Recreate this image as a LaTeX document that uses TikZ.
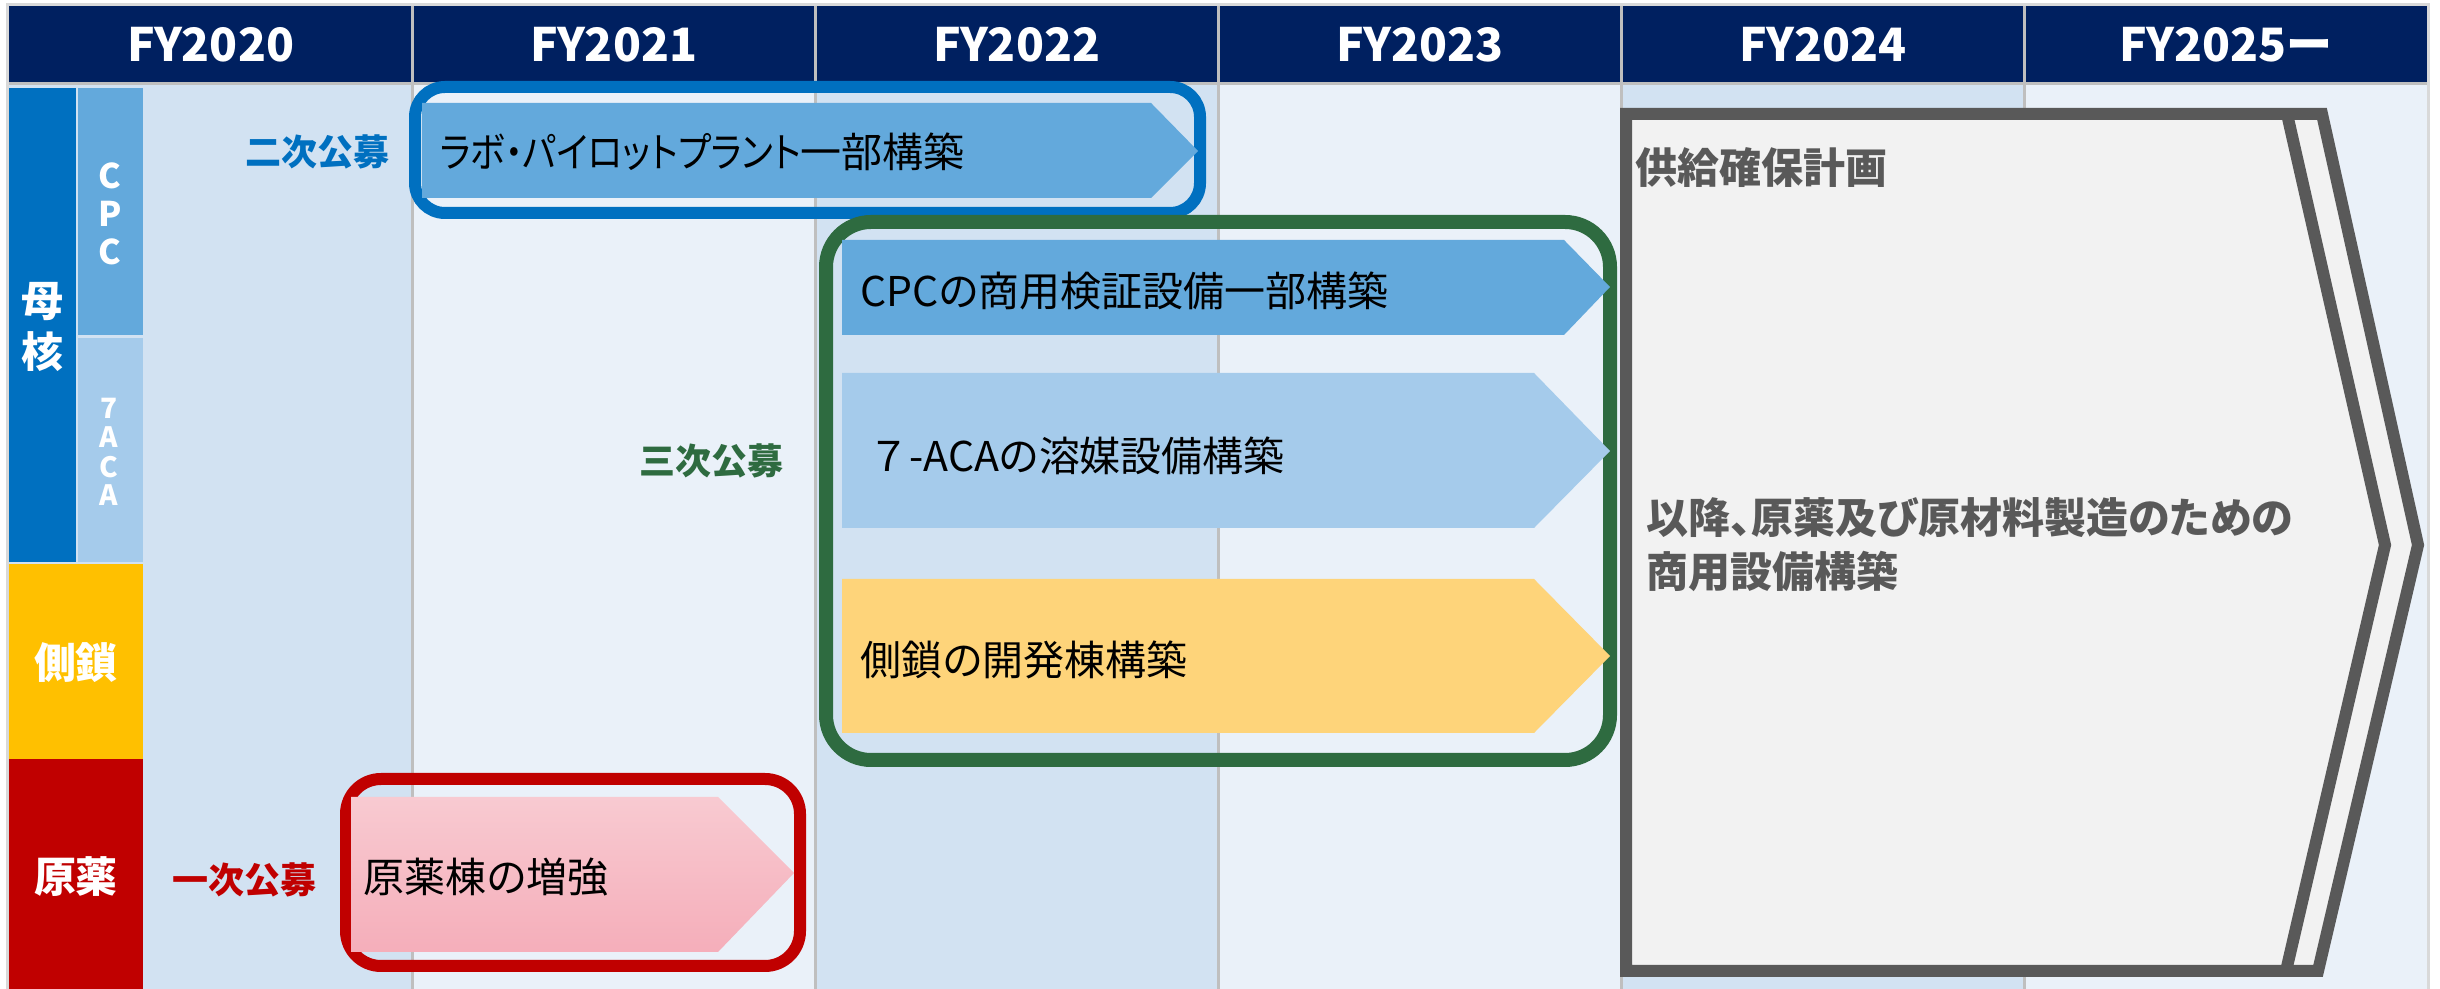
\documentclass[tikz,border=0pt]{standalone}
\usepackage{fontspec}
\setmainfont[RawFeature=+palt]{Noto Sans CJK JP}
\newfontfamily\jpfull{Noto Sans CJK JP}
\definecolor{navy}{HTML}{002060}
\definecolor{colD}{HTML}{D2E2F2}
\definecolor{colL}{HTML}{EAF1F9}
\definecolor{divg}{HTML}{BFBFBF}
\definecolor{edgeg}{HTML}{D9D9D9}
\definecolor{mblue}{HTML}{0070C0}
\definecolor{cpcb}{HTML}{63A9DC}
\definecolor{acab}{HTML}{A5CBEB}
\definecolor{ylw}{HTML}{FFC000}
\definecolor{ylwa}{HTML}{FED47A}
\definecolor{dred}{HTML}{C00000}
\definecolor{pinkt}{HTML}{F8CAD1}
\definecolor{pinkb}{HTML}{F5AEBA}
\definecolor{dgreen}{HTML}{2E6B40}
\definecolor{gstroke}{HTML}{595959}
\definecolor{gfill}{HTML}{F2F2F2}
\tikzset{
 hdr/.style={text=white, font=\bfseries\fontsize{13.8}{16}\selectfont, inner sep=0},
 cat/.style={text=white, font=\bfseries\fontsize{12.6}{14}\selectfont, inner sep=0},
 sub/.style={text=white, font=\bfseries\fontsize{10.2}{12}\selectfont, inner sep=0},
 subs/.style={text=white, font=\bfseries\fontsize{8.4}{10}\selectfont, inner sep=0},
 callout/.style={font=\bfseries\fontsize{10.8}{13}\selectfont, inner sep=0},
 atext/.style={text=black, font=\fontsize{12.3}{14}\selectfont, inner sep=0, anchor=west},
 gtext/.style={text=gstroke, font=\bfseries\fontsize{12.6}{15}\selectfont, inner sep=0, anchor=west},
 frame/.style={line width=3.6pt},
}
\begin{document}
\begin{tikzpicture}[x=0.3pt,y=-0.3pt]
\useasboundingbox (0,0) rectangle (2440,989);
\fill[white] (0,0) rectangle (2440,989);
\fill[edgeg] (6,3) rectangle (2430,989);
% columns
\foreach \i/\c in {0/colD,1/colL,2/colD,3/colL,4/colD,5/colL}
  \fill[\c] (9+\i*403,85) rectangle (412+\i*403,989);
\fill[navy] (9,6) rectangle (2427,83);
\foreach \i in {1,...,5}
  \draw[divg, line width=0.9pt] (9+\i*403,6) -- (9+\i*403,989);
\draw[divg, line width=0.9pt] (9,84) -- (2427,84);
% header texts
\foreach \i/\t in {0/FY2020,1/FY2021,2/FY2022,3/FY2023,4/FY2024,5/FY2025ー}
  \node[hdr] (h\i) at (210.5+\i*403,45) {\t};
% category column
\fill[mblue] (9,88) rectangle (76,562);
\fill[cpcb] (78,88) rectangle (143,335);
\fill[acab] (78,338) rectangle (143,562);
\fill[ylw] (9,564) rectangle (143,759);
\fill[dred] (9,759) rectangle (143,989);
\node[cat] (mo) at (42,302) {母};
\node[cat] (kaku) at (42,352) {核};
\node[sub] (c1) at (110,176) {C};
\node[sub] (p1) at (110,214) {P};
\node[sub] (c2) at (110,252) {C};
\node[subs] (s7) at (109,408) {7};
\node[subs] (sa1) at (109,437) {A};
\node[subs] (sc) at (109,467) {C};
\node[subs] (sa2) at (109,495) {A};
\node[cat] (sokusa) at (76,663) {側鎖};
\node[cat] (genyaku) at (76,877) {原薬};
% call labels
\node[callout, text=mblue] (niji) at (317,152) {二次公募};
\node[callout, text=dred] (ichiji) at (244,880) {一次公募};
\node[callout, text=dgreen] (sanji) at (711,461) {三次公募};
% frames
\draw[frame, mblue, rounded corners=9pt] (415,87) rectangle (1200,213);
\draw[frame, dgreen, line width=4.2pt, rounded corners=13.5pt] (826,222) rectangle (1610,760);
\draw[frame, dred, rounded corners=10.5pt] (346,779) rectangle (800,966);
% arrows
\fill[cpcb] (422,103) -- (1151,103) -- (1198,151) -- (1151,198) -- (422,198) -- cycle;
\fill[cpcb] (842,240) -- (1564,240) -- (1610,287) -- (1564,335) -- (842,335) -- cycle;
\fill[acab] (842,373) -- (1534,373) -- (1610,451) -- (1534,528) -- (842,528) -- cycle;
\fill[ylwa] (842,579) -- (1534,579) -- (1610,656) -- (1534,733) -- (842,733) -- cycle;
\shade[top color=pinkt, bottom color=pinkb] (351,797) -- (718,797) -- (794,873) -- (718,952) -- (351,952) -- cycle;
\node[atext] (a1) at (439,152) {\scalebox{0.87}[1]{ラボ・パイロットプラント}一部構築};
\node[atext] (a2) at (860,291) {CPCの商用検証設備一部構築};
\node[atext] (a3) at (868,456) {{\jpfull ７}-ACAの溶媒設備構築};
\node[atext] (a4) at (860,660) {側鎖の開発棟構築};
\node[atext] (a5) at (363,877) {原薬棟の増強};
% gray chevron
\filldraw[fill=gfill, draw=gstroke, frame] (1626,114) -- (2322,114) -- (2418,545) -- (2318,971) -- (1626,971) -- cycle;
\draw[gstroke, frame] (2287,114) -- (2385,545) -- (2286,971);
\node[gtext] (g1) at (1635,168) {供給確保計画};
\node[gtext] (g2) at (1646,518) {以降、原薬及び原材料製造のための};
\node[gtext] (g3) at (1646,571) {商用設備構築};
\end{tikzpicture}
\end{document}
